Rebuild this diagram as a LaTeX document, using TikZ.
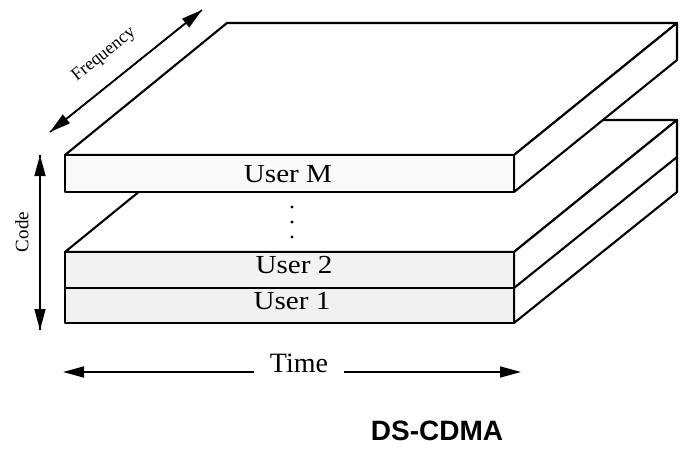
\documentclass[tikz,border=0pt]{standalone}
\usepackage{fontspec}
\setmainfont{Liberation Serif}
\newfontfamily\headfont{Liberation Sans}
\usetikzlibrary{arrows.meta}
\begin{document}
\begin{tikzpicture}[x=1pt,y=-1pt,
  edge/.style={line width=2.1pt, line join=round},
  tip/.style={-{Triangle[length=21pt,width=11pt]}},
  axisline/.style={line width=1.6pt},
  userlbl/.style={font=\fontsize{26}{26}\selectfont, xscale=1.12, anchor=base, inner sep=0pt},
  axislbl/.style={font=\fontsize{18}{18}\selectfont, inner sep=0pt},
  ]
\useasboundingbox (0,0) rectangle (681,455);

% lower stack: User 1 and User 2
\filldraw[edge, fill=white] (65,252) -- (227,120) -- (677,120) -- (514,252) -- cycle;
\filldraw[edge, fill=white] (514,252) -- (677,120) -- (677,192) -- (514,323) -- cycle;
\draw[edge] (514,288) -- (677,157);
\filldraw[edge, fill=gray!10] (65,252) rectangle (514,288);
\filldraw[edge, fill=gray!12] (65,288) rectangle (514,323);

% upper slab: User M
\filldraw[edge, fill=white] (65,155) -- (227,23) -- (677,23) -- (514,155) -- cycle;
\filldraw[edge, fill=white] (514,155) -- (677,23) -- (677,60) -- (514,192) -- cycle;
\filldraw[edge, fill=gray!5] (65,155) rectangle (514,192);

% slab labels
\node[userlbl] (userM) at (288,182) {User M};
\node[userlbl] (user2) at (294,273) {User 2};
\node[userlbl] (user1) at (292,309) {User 1};

% vertical ellipsis between the slabs
\fill (292,207) circle (1.7pt) (292,222) circle (1.7pt) (292,237) circle (1.7pt);

% frequency axis
\coordinate (fLow) at (50,132);
\coordinate (fHigh) at (202,10);
\draw[axisline, tip] (fLow) -- (fHigh);
\draw[axisline, tip] (fHigh) -- (fLow);
\node[axislbl, rotate=39] (freq) at (104,55) {Frequency};

% code axis
\coordinate (cTop) at (40,155);
\coordinate (cBot) at (40,330);
\draw[axisline, tip] (cBot) -- (cTop);
\draw[axisline, tip] (cTop) -- (cBot);
\node[axislbl, font=\fontsize{19}{19}\selectfont, rotate=90] (code) at (22,232) {Code};

% time axis
\node[font=\fontsize{28}{28}\selectfont, anchor=base, inner xsep=16pt, inner ysep=0pt] (time) at (299,372) {Time};
\coordinate (tLeft) at (63,372);
\coordinate (tRight) at (521,372);
\draw[axisline, tip] (time.base west) -- (tLeft);
\draw[axisline, tip] (time.base east) -- (tRight);

% title
\node[font=\headfont\bfseries\fontsize{28}{28}\selectfont, anchor=base, inner sep=0pt] (title) at (437,440) {DS-CDMA};
\end{tikzpicture}
\end{document}
